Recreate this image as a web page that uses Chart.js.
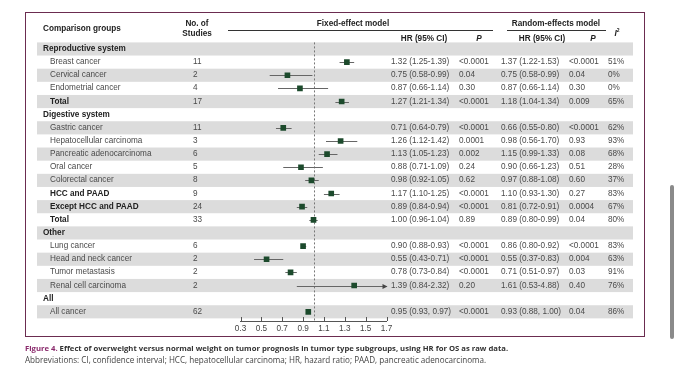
<!DOCTYPE html>
<html>
<head>
<meta charset="utf-8">
<script src="https://cdn.jsdelivr.net/npm/chart.js@4.4.1/dist/chart.umd.min.js"></script>
<style>
  body { margin: 0; background: #fff; width: 680px; height: 373px; overflow: hidden; position: relative; font-family: "Liberation Sans", Arial, sans-serif; }
  #forest { position: absolute; left: 0; top: 0; }
  .frame { position: absolute; left: 25px; top: 12px; width: 618px; height: 323px; border: 1.5px solid #6b2c50; }
  .t { position: absolute; white-space: nowrap; font-size: 8.2px; line-height: 12px; height: 12px; color: #4a4a4a; }
  .b { font-weight: bold; color: #222; }
  .c { transform: translateX(-50%); }
  .rule { position: absolute; height: 1px; background: #333; }
  .scroll { position: absolute; left: 670px; top: 185px; width: 4px; height: 154px; border-radius: 2px; background: #8a8a8a; }
  .cap { position: absolute; left: 25px; white-space: nowrap; font-family: "Open Sans", sans-serif; color: #444; }
</style>
</head>
<body>
<div class="frame"></div>
<canvas id="forest" width="680" height="373"></canvas>
<div id="text"></div>
<div class="scroll"></div>
<div class="cap" style="top:343px; font-size:7.7px;"><b style="color:#8a2a6c;">Figure 4.</b> <b style="color:#333;">Effect of overweight versus normal weight on tumor prognosis in tumor type subgroups, using HR for OS as raw data.</b></div>
<div class="cap" style="top:354px; font-size:8.1px;">Abbreviations: CI, confidence interval; HCC, hepatocellular carcinoma; HR, hazard ratio; PAAD, pancreatic adenocarcinoma.</div>
<script>
// Rows of the forest plot (group headers have no values)
const rowLabels = ['Reproductive system', 'Breast cancer', 'Cervical cancer', 'Endometrial cancer', 'Total',
    'Digestive system', 'Gastric cancer', 'Hepatocellular carcinoma', 'Pancreatic adenocarcinoma', 'Oral cancer',
    'Colorectal cancer', 'HCC and PAAD', 'Except HCC and PAAD', 'Total',
    'Other', 'Lung cancer', 'Head and neck cancer', 'Tumor metastasis', 'Renal cell carcinoma',
    'All', 'All cancer'];
const rowKind = ['group', 'item', 'item', 'item', 'bold',
    'group', 'item', 'item', 'item', 'item', 'item', 'bold', 'bold', 'bold',
    'group', 'item', 'item', 'item', 'item',
    'group', 'item'];
const studies = [null, 11, 2, 4, 17, null, 11, 3, 6, 5, 8, 9, 24, 33, null, 6, 2, 2, 2, null, 62];

// Fixed-effect model
const hrFixed = [null, 1.32, 0.75, 0.87, 1.27, null, 0.71, 1.26, 1.13, 0.88, 0.98, 1.17, 0.89, 1.00, null, 0.90, 0.55, 0.78, 1.39, null, 0.95];
const loFixed = [null, 1.25, 0.58, 0.66, 1.21, null, 0.64, 1.12, 1.05, 0.71, 0.92, 1.10, 0.84, 0.96, null, 0.88, 0.43, 0.73, 0.84, null, 0.93];
const hiFixed = [null, 1.39, 0.99, 1.14, 1.34, null, 0.79, 1.42, 1.23, 1.09, 1.05, 1.25, 0.94, 1.04, null, 0.93, 0.71, 0.84, 2.32, null, 0.97];
const pFixed = [null, '<0.0001', '0.04', '0.30', '<0.0001', null, '<0.0001', '0.0001', '0.002', '0.24', '0.62', '<0.0001', '<0.0001', '0.89', null, '<0.0001', '<0.0001', '<0.0001', '0.20', null, '<0.0001'];

// Random-effects model
const hrRandom = [null, 1.37, 0.75, 0.87, 1.18, null, 0.66, 0.98, 1.15, 0.90, 0.97, 1.10, 0.81, 0.89, null, 0.86, 0.55, 0.71, 1.61, null, 0.93];
const loRandom = [null, 1.22, 0.58, 0.66, 1.04, null, 0.55, 0.56, 0.99, 0.66, 0.88, 0.93, 0.72, 0.80, null, 0.80, 0.37, 0.51, 0.53, null, 0.88];
const hiRandom = [null, 1.53, 0.99, 1.14, 1.34, null, 0.80, 1.70, 1.33, 1.23, 1.08, 1.30, 0.91, 0.99, null, 0.92, 0.83, 0.97, 4.88, null, 1.00];
const pRandom = [null, '<0.0001', '0.04', '0.30', '0.009', null, '<0.0001', '0.93', '0.08', '0.51', '0.60', '0.27', '0.0004', '0.04', null, '<0.0001', '0.004', '0.03', '0.40', null, '0.04'];
const i2 = [null, '51%', '0%', '0%', '65%', null, '62%', '93%', '68%', '28%', '37%', '83%', '67%', '80%', null, '83%', '63%', '91%', '76%', null, '86%'];

const xTicks = [0.3, 0.5, 0.7, 0.9, 1.1, 1.3, 1.5, 1.7];

function ciText(hr, lo, hi, i) {
    const sep = rowLabels[i] === 'All cancer' ? ', ' : '-';
    return hr.toFixed(2) + ' (' + lo.toFixed(2) + sep + hi.toFixed(2) + ')';
}

// grey bands, whiskers, null line and upward ticks
const forestPlugin = {
    id: 'forest',
    beforeDatasetsDraw(chart) {
        const ctx = chart.ctx, y = chart.scales.y, x = chart.scales.x, area = chart.chartArea;
        ctx.save();
        ctx.fillStyle = '#dcdcdc';
        rowLabels.forEach((l, i) => {
            if (i % 2 === 0) {
                const top = y.getPixelForValue(i - 0.5), bot = y.getPixelForValue(i + 0.5);
                ctx.fillRect(37, top, 596, bot - top);
            }
        });
        // null line
        ctx.strokeStyle = '#777';
        ctx.setLineDash([2, 2]);
        ctx.lineWidth = 1;
        ctx.beginPath();
        ctx.moveTo(Math.round(x.getPixelForValue(1)) + 0.5, area.top);
        ctx.lineTo(Math.round(x.getPixelForValue(1)) + 0.5, area.bottom);
        ctx.stroke();
        ctx.setLineDash([]);
        // whiskers
        ctx.strokeStyle = '#666';
        ctx.fillStyle = '#444';
        hrFixed.forEach((hr, i) => {
            if (hr === null) return;
            const yy = Math.round(y.getPixelForValue(i)) + 0.5;
            const x0 = x.getPixelForValue(Math.max(loFixed[i], x.min));
            const x1 = x.getPixelForValue(Math.min(hiFixed[i], x.max));
            ctx.beginPath();
            ctx.moveTo(x0, yy);
            ctx.lineTo(x1, yy);
            ctx.stroke();
            if (hiFixed[i] > x.max) {
                ctx.beginPath();
                ctx.moveTo(x1 + 1, yy);
                ctx.lineTo(x1 - 4, yy - 2.5);
                ctx.lineTo(x1 - 4, yy + 2.5);
                ctx.closePath();
                ctx.fill();
            }
        });
        ctx.restore();
    },
    afterDraw(chart) {
        const ctx = chart.ctx, x = chart.scales.x, area = chart.chartArea;
        ctx.save();
        ctx.strokeStyle = '#555';
        ctx.lineWidth = 1;
        x.ticks.forEach(t => {
            const px = Math.round(x.getPixelForValue(t.value)) + 0.5;
            ctx.beginPath();
            ctx.moveTo(px, area.bottom - 4);
            ctx.lineTo(px, area.bottom);
            ctx.stroke();
        });
        ctx.restore();
    }
};

const points = [];
hrFixed.forEach((hr, i) => { if (hr !== null) points.push({ x: hr, y: i }); });

const chart = new Chart(document.getElementById('forest'), {
    type: 'scatter',
    data: {
        datasets: [{
            data: points,
            pointStyle: 'rect',
            pointRadius: 4,
            backgroundColor: '#1c4a2c',
            borderColor: '#1c4a2c',
            borderWidth: 0
        }]
    },
    options: {
        responsive: false,
        animation: false,
        events: [],
        layout: { padding: { left: 240.5, right: 293.5, top: 42.4, bottom: 32 } },
        plugins: { legend: { display: false }, tooltip: { enabled: false } },
        scales: {
            x: {
                type: 'linear',
                min: 0.3,
                max: 1.7,
                afterBuildTicks(scale) { scale.ticks = xTicks.map(v => ({ value: v })); },
                afterFit(scale) { scale.height = 20; },
                grid: { drawOnChartArea: false, drawTicks: false },
                border: { color: '#555', width: 1 },
                ticks: {
                    padding: 3,
                    color: '#444',
                    font: { family: '"Liberation Sans", Arial, sans-serif', size: 8.2 },
                    callback: v => v.toFixed(1),
                    maxRotation: 0,
                    autoSkip: false
                }
            },
            y: {
                type: 'linear',
                display: false,
                reverse: true,
                min: -0.5,
                max: 20.7
            }
        }
    },
    plugins: [forestPlugin]
});

// table text placed on the chart's own row scale
const holder = document.getElementById('text');
function put(txt, left, cy, cls) {
    const d = document.createElement('div');
    d.className = 't' + (cls ? ' ' + cls : '');
    d.style.left = left + 'px';
    d.style.top = (cy - 6) + 'px';
    d.innerHTML = txt;
    holder.appendChild(d);
}

// header
put('Comparison groups', 43, 29, 'b');
put('No. of', 197, 24, 'b c');
put('Studies', 197, 34, 'b c');
put('Fixed-effect model', 353, 24, 'b c');
put('HR (95% CI)', 424, 39, 'b c');
put('<i>P</i>', 479, 39, 'b c');
put('Random-effects model', 556, 24, 'b c');
put('HR (95% CI)', 542, 39, 'b c');
put('<i>P</i>', 593, 39, 'b c');
put('<i>I</i><sup style="font-size:5px">2</sup>', 617, 30, 'b c');
[[228, 493], [507, 606]].forEach(([a, b]) => {
    const r = document.createElement('div');
    r.className = 'rule';
    r.style.left = a + 'px';
    r.style.width = (b - a) + 'px';
    r.style.top = '30px';
    holder.appendChild(r);
});

const ys = chart.scales.y;
rowLabels.forEach((label, i) => {
    const cy = ys.getPixelForValue(i);
    if (rowKind[i] === 'group') { put(label, 43, cy, 'b'); return; }
    put(label, 50, cy, rowKind[i] === 'bold' ? 'b' : '');
    put(String(studies[i]), 193, cy);
    put(ciText(hrFixed[i], loFixed[i], hiFixed[i], i), 391, cy);
    put(pFixed[i], 459, cy);
    put(ciText(hrRandom[i], loRandom[i], hiRandom[i], i), 501, cy);
    put(pRandom[i], 569, cy);
    put(i2[i], 608, cy);
});
</script>
</body>
</html>
